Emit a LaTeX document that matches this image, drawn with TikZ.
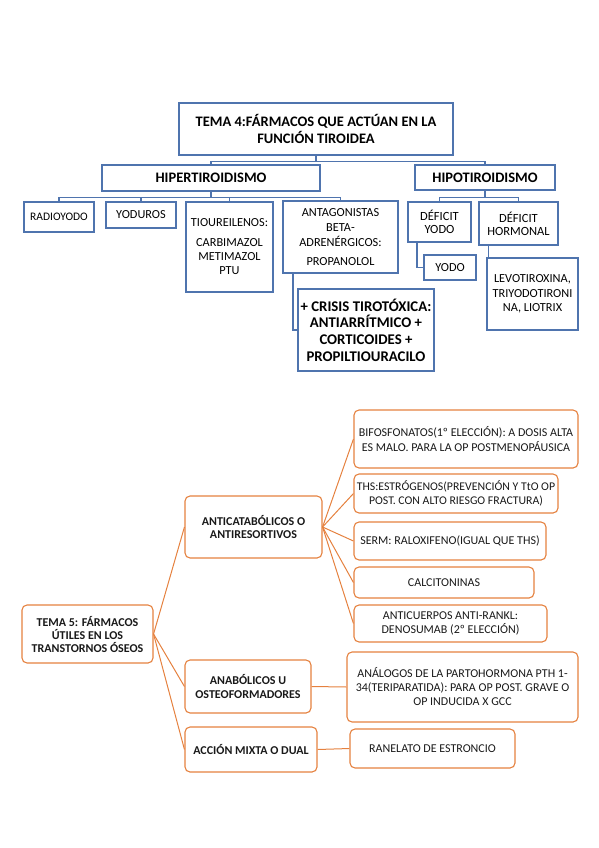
\documentclass[tikz,border=0pt]{standalone}
\usepackage{fontspec}
\setmainfont{Carlito}
\definecolor{bl}{HTML}{4F74AE}
\definecolor{og}{HTML}{E5813F}
\tikzset{
  bbox/.style={draw=bl, line width=1.2pt, align=center, inner sep=1pt, text=black, font=\fontsize{12.3}{14.5}\selectfont},
  bline/.style={draw=bl, line width=1.1pt},
  obox/.style={draw=og, line width=1.1pt, rounded corners=5pt, align=center, inner sep=1pt, text=black!90, font=\fontsize{12}{14.5}\selectfont},
  bfbox/.style={obox, font=\bfseries\fontsize{12}{13.5}\selectfont},
  oline/.style={draw=og, line width=1pt},
}
\begin{document}
\begin{tikzpicture}[x=1pt,y=-1pt]
\useasboundingbox (0,0) rectangle (599,848);
% ---------- TEMA 4 ----------
\node[bbox, minimum width=274, minimum height=52, font=\bfseries\fontsize{14.5}{17}\selectfont] (t4) at (316,129) {TEMA 4:FÁRMACOS QUE ACTÚAN EN LA\\FUNCIÓN TIROIDEA};
\node[bbox, minimum width=218, minimum height=26, font=\bfseries\fontsize{14.5}{16}\selectfont] (hiper) at (211,178) {HIPERTIROIDISMO};
\node[bbox, minimum width=140, minimum height=25, font=\bfseries\fontsize{14.5}{16}\selectfont] (hipo) at (485,177.5) {HIPOTIROIDISMO};
\node[bbox, minimum width=70, minimum height=30, font=\fontsize{11.5}{14}\selectfont] (radio) at (59,217) {RADIOYODO};
\node[bbox, minimum width=70, minimum height=26] (yod) at (141,215) {YODUROS};
\node[bbox, minimum width=87, minimum height=90, font=\fontsize{12.3}{14}\selectfont] (tiou) at (229.5,247) {TIOUREILENOS:\\[6pt]CARBIMAZOL\\METIMAZOL\\PTU};
\node[bbox, minimum width=115, minimum height=72, font=\fontsize{12.3}{15}\selectfont] (antag) at (340.5,237) {ANTAGONISTAS\\BETA-\\ADRENÉRGICOS:\\[4pt]PROPANOLOL};
\node[bbox, minimum width=136, minimum height=82, font=\bfseries\fontsize{14.8}{16.7}\selectfont] (crisis) at (366,330) {+ CRISIS TIROTÓXICA:\\ANTIARRÍTMICO +\\CORTICOIDES +\\PROPILTIOURACILO};
\node[bbox, minimum width=63, minimum height=40, font=\fontsize{12.5}{13}\selectfont] (dyodo) at (439.5,222) {DÉFICIT\\YODO};
\node[bbox, minimum width=79, minimum height=43, font=\fontsize{12.5}{13}\selectfont] (dhorm) at (518.5,223.5) {DÉFICIT\\HORMONAL};
\node[bbox, minimum width=52, minimum height=25] (yodo) at (450,267.5) {YODO};
\node[bbox, minimum width=91, minimum height=72, font=\fontsize{12.3}{14.5}\selectfont] (levo) at (532.5,294) {LEVOTIROXINA,\\TRIYODOTIRONI\\NA, LIOTRIX};
% connectors
\draw[bline] (t4.south) -- ++(0,6) -| (hiper.north);
\draw[bline] (t4.south) -- ++(0,6) -| (hipo.north);
\foreach \n in {radio,yod,tiou,antag}{\draw[bline] (hiper.south) -- ++(0,6) -| (\n.north);}
\foreach \n in {dyodo,dhorm}{\draw[bline] (hipo.south) -- ++(0,7) -| (\n.north);}
\draw[bline] ([xshift=-22.5pt]dyodo.south) |- (yodo.west);
\draw[bline] ([xshift=-47.5pt]antag.south) |- (crisis.west);
\draw[bline] ([xshift=-30pt]dhorm.south) -- ([xshift=-30pt]dhorm.south |- levo.north);
% ---------- TEMA 5 ----------
\node[bfbox, minimum width=131, minimum height=58, font=\bfseries\fontsize{12}{13}\selectfont] (t5) at (87.5,634) {TEMA 5: FÁRMACOS\\ÚTILES EN LOS\\TRANSTORNOS ÓSEOS};
\node[bfbox, minimum width=137, minimum height=62] (anticat) at (253.5,527) {ANTICATABÓLICOS O\\ANTIRESORTIVOS};
\node[bfbox, minimum width=126, minimum height=53] (anab) at (248,686.5) {ANABÓLICOS U\\OSTEOFORMADORES};
\node[bfbox, minimum width=132, minimum height=45] (mixta) at (251,749.5) {ACCIÓN MIXTA O DUAL};
\node[obox, minimum width=224, minimum height=58] (bifo) at (466,439) {BIFOSFONATOS(1º ELECCIÓN): A DOSIS ALTA\\ES MALO. PARA LA OP POSTMENOPÁUSICA};
\node[obox, minimum width=204, minimum height=39, font=\fontsize{11.8}{14}\selectfont] (ths) at (456,493.5) {THS:ESTRÓGENOS(PREVENCIÓN Y TtO OP\\POST. CON ALTO RIESGO FRACTURA)};
\node[obox, minimum width=192, minimum height=38] (serm) at (450,541) {SERM: RALOXIFENO(IGUAL QUE THS)};
\node[obox, minimum width=180, minimum height=31] (calci) at (444,582.5) {CALCITONINAS};
\node[obox, minimum width=193, minimum height=37, font=\fontsize{12}{14}\selectfont] (anticu) at (450.5,623.5) {ANTICUERPOS ANTI-RANKL:\\DENOSUMAB (2º ELECCIÓN)};
\node[obox, minimum width=231, minimum height=70, font=\fontsize{12}{14}\selectfont] (analog) at (462.5,687) {ANÁLOGOS DE LA PARTOHORMONA PTH 1-\\34(TERIPARATIDA): PARA OP POST. GRAVE O\\OP INDUCIDA X GCC};
\node[obox, minimum width=165, minimum height=39] (ranel) at (432.5,748.5) {RANELATO DE ESTRONCIO};
% connectors
\foreach \n in {anticat,anab,mixta}{\draw[oline] (t5.east) -- (\n.west);}
\foreach \n in {bifo,ths,serm,calci,anticu}{\draw[oline] (anticat.east) -- (\n.west);}
\draw[oline] (anab.east) -- (analog.west);
\draw[oline] (mixta.east) -- (ranel.west);
\end{tikzpicture}
\end{document}
